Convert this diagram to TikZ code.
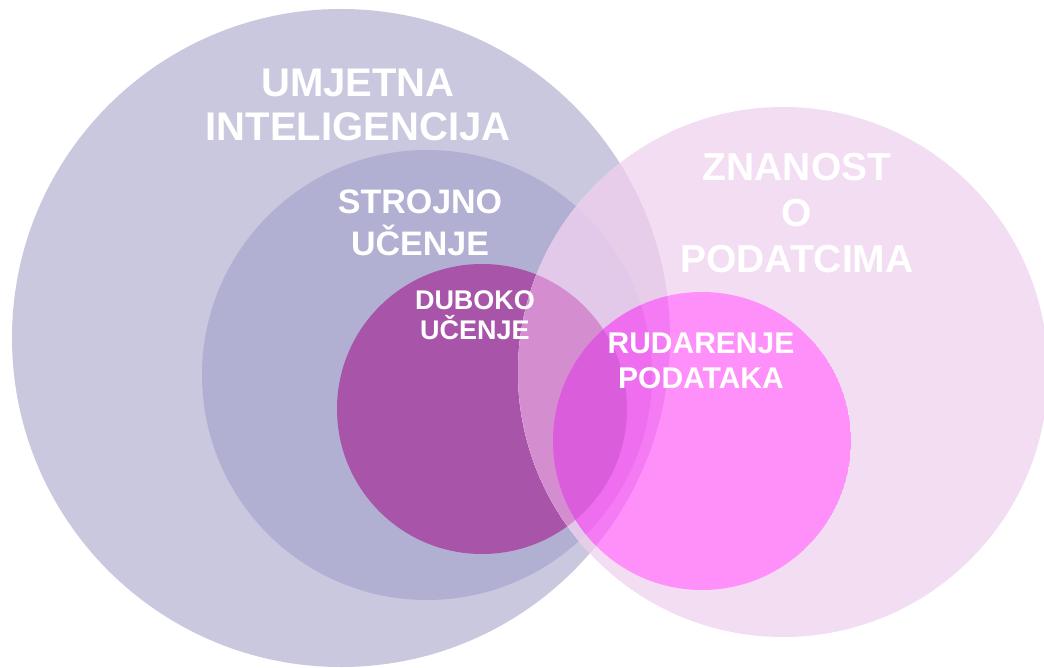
\documentclass[tikz,border=0pt]{standalone}
\usepackage{fontspec}
\setmainfont{Liberation Sans}

\definecolor{aicol}{HTML}{C9C8DF}
\definecolor{mlcol}{HTML}{B1B0D3}
\definecolor{dlcol}{HTML}{A855A9}
\definecolor{dscol}{HTML}{F3DDF3}
\definecolor{dsai}{HTML}{E7CDE9}
\definecolor{dsml}{HTML}{E2C9EA}
\definecolor{dsdl}{HTML}{D48ED0}
\definecolor{dmcol}{HTML}{FF90FA}
\definecolor{dmai}{HTML}{F57BF5}
\definecolor{dmml}{HTML}{EE6EEF}
\definecolor{dmdl}{HTML}{DA5EDC}

% circles of the diagram
\newcommand{\circAI}{(341,338) circle (329pt)}
\newcommand{\circML}{(427,375) circle (225pt)}
\newcommand{\circDL}{(482,409) circle (145pt)}
\newcommand{\circDS}{(783,372) circle (265pt)}
\newcommand{\circDM}{(702,441) circle (149pt)}

\tikzset{
  venntext/.style={text=white,font=\bfseries,align=center,inner sep=0pt}
}

\begin{document}
\begin{tikzpicture}[x=1pt,y=-1pt]
\useasboundingbox (0,0) rectangle (1044,668);
\clip (0,0) rectangle (1044,668);
\fill [white] (0,0) rectangle (1044,668);

\fill [aicol] \circAI;
\fill [mlcol] \circML;
\fill [dlcol] \circDL;

% znanost o podatcima over the others
\fill [dscol] \circDS;
\begin{scope}
  \clip \circDS;
  \fill [dsai] \circAI;
  \fill [dsml] \circML;
  \fill [dsdl] \circDL;
\end{scope}

% rudarenje podataka
\begin{scope}
  \clip \circDM;
  \fill [dmcol] \circDM;
  \fill [dmai] \circAI;
  \fill [dmml] \circML;
  \fill [dmdl] \circDL;
\end{scope}

\node [venntext,font=\bfseries\fontsize{40}{44}\selectfont] (ai) at (358,105) {UMJETNA\\INTELIGENCIJA};
\node [venntext,font=\bfseries\fontsize{34}{42}\selectfont] (ml) at (420,223) {STROJNO\\UČENJE};
\node [venntext,font=\bfseries\fontsize{27}{30}\selectfont] (dl) at (475,315) {DUBOKO\\UČENJE};
\node [venntext,font=\bfseries\fontsize{39}{46}\selectfont] (ds) at (797,213) {ZNANOST\\O\\PODATCIMA};
\node [venntext,font=\bfseries\fontsize{30}{35}\selectfont] (dm) at (701,361) {RUDARENJE\\PODATAKA};
\end{tikzpicture}
\end{document}
